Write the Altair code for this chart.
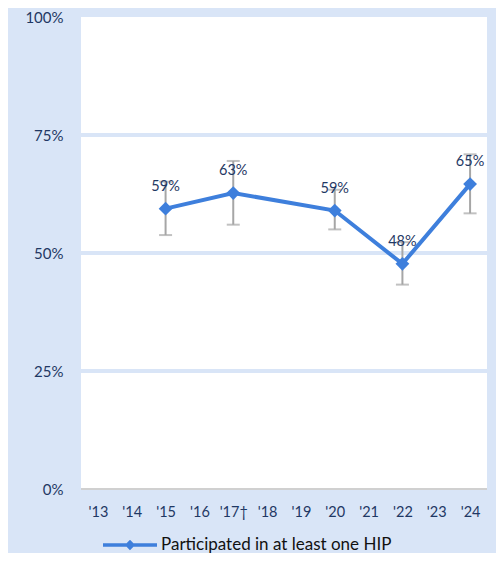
import altair as alt
import pandas as pd

years = ["'13", "'14", "'15", "'16", "'17†", "'18", "'19", "'20", "'21", "'22", "'23", "'24"]
point_years = ["'15", "'17†", "'20", "'22", "'24"]
values = [0.594, 0.627, 0.590, 0.477, 0.646]
lows = [0.538, 0.560, 0.550, 0.433, 0.584]
highs = [0.651, 0.695, 0.634, 0.523, 0.709]
labels = ["59%", "63%", "59%", "48%", "65%"]
series = "Participated in at least one HIP"
grid_vals = [0.25, 0.5, 0.75]

df = pd.DataFrame({"year": point_years, "value": values, "lo": lows, "hi": highs,
                   "label": labels, "series": series})
grid_df = pd.DataFrame({"g": grid_vals})
zero_df = pd.DataFrame({"g": [0.0]})

BLUE = "#3E7FDC"
NAVY = "#1F3864"
BG = "#D9E5F7"
FONT = "Lato"

xenc = alt.X("year:N", sort=years,
             scale=alt.Scale(domain=years, type="point", padding=0.5),
             axis=alt.Axis(title=None, domain=False, ticks=False, labelPadding=16,
                           labelFontSize=14.5, labelColor=NAVY, labelAngle=0, labelFont=FONT))
yscale = alt.Scale(domain=[0, 1], nice=False)
yaxis = alt.Axis(title=None, values=[0, 0.25, 0.5, 0.75, 1.0], format=".0%", grid=False,
                 domain=False, ticks=False, labelPadding=18, labelFontSize=15,
                 labelColor=NAVY, labelFont=FONT)

grid = alt.Chart(grid_df).mark_rule(color=BG, strokeWidth=4).encode(
    y=alt.Y("g:Q", scale=yscale, axis=yaxis))
zero = alt.Chart(zero_df).mark_rule(color="#D0D0D0", strokeWidth=2).encode(
    y=alt.Y("g:Q", scale=yscale))

base = alt.Chart(df)
err = base.mark_rule(color="#A6A6A6", strokeWidth=2).encode(
    x=xenc, y=alt.Y("lo:Q", scale=yscale), y2="hi:Q")
cap_lo = base.mark_tick(color="#A6A6A6", thickness=2, size=13).encode(
    x=xenc, y=alt.Y("lo:Q", scale=yscale))
cap_hi = base.mark_tick(color="#A6A6A6", thickness=2, size=13).encode(
    x=xenc, y=alt.Y("hi:Q", scale=yscale))
line = base.mark_line(color=BLUE, strokeWidth=4).encode(
    x=xenc, y=alt.Y("value:Q", scale=yscale))
pts = base.mark_point(shape="diamond", filled=True, size=190, opacity=1).encode(
    x=xenc, y=alt.Y("value:Q", scale=yscale),
    color=alt.Color("series:N", scale=alt.Scale(domain=[series], range=[BLUE]),
                    legend=alt.Legend(title=None, orient="none", legendX=22, legendY=501,
                                      symbolType="M-1,-0.065L1,-0.065L1,0.065L-1,0.065Z M0,-0.19L0.19,0L0,0.19L-0.19,0Z",
                                      symbolSize=2916, symbolStrokeWidth=0, symbolOffset=0,
                                      labelFontSize=17, labelColor="#111111", labelOffset=4,
                                      labelFont=FONT, labelLimit=400)))
txt = base.mark_text(dy=-22, fontSize=14.5, color=NAVY, font=FONT).encode(
    x=xenc, y=alt.Y("value:Q", scale=yscale), text="label:N")

chart = alt.layer(grid, zero, err, cap_lo, cap_hi, line, pts, txt).properties(
    width=406, height=472,
    padding={"left": 73, "top": 9, "right": 9, "bottom": 64},
    autosize="none",
    background=BG,
).configure_view(fill="white", stroke=None)

chart.save("out.html", embed_options={"renderer": "svg", "actions": False})
